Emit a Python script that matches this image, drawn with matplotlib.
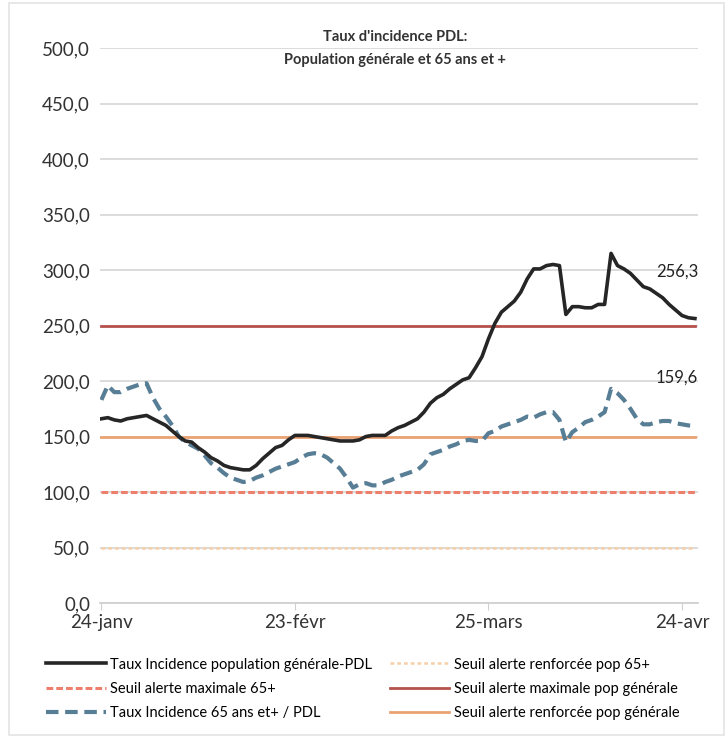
import matplotlib.pyplot as plt
import matplotlib.dates as mdates
import numpy as np
import pandas as pd
from matplotlib.patches import Rectangle

plt.rcParams['font.family'] = ['Lato', 'DejaVu Sans']

# daily dates, 24 Jan -> 26 Apr 2021
dates = pd.date_range("2021-01-24", periods=93, freq="D")

taux_pop_generale = [
    166, 167, 165, 164, 166, 167, 168, 169, 166, 163,
    160, 155, 150, 146, 145, 140, 136, 131, 128, 124,
    122, 121, 120, 120, 124, 130, 135, 140, 142, 147,
    151, 151, 151, 150, 149, 148, 147, 146, 146, 146,
    147, 150, 151, 151, 151, 155, 158, 160, 163, 166,
    172, 180, 185, 188, 193, 197, 201, 203, 212, 222,
    238, 252, 262, 267, 272, 280, 292, 301, 301, 304,
    305, 304, 260, 267, 267, 266, 266, 269, 269, 315,
    304, 301, 297, 291, 285, 283, 279, 275, 269, 264,
    259, 257, 256.3,
]

taux_65_plus = [
    183, 196, 190, 190, 193, 195, 197, 198, 185, 175,
    168, 160, 150, 145, 142, 139, 133, 126, 122, 117,
    113, 111, 109, 110, 113, 115, 118, 121, 123, 125,
    127, 131, 134, 135, 134, 131, 126, 121, 113, 104,
    107, 108, 106, 106, 109, 111, 114, 116, 118, 120,
    125, 134, 136, 138, 141, 143, 146, 147, 146, 146,
    153, 155, 159, 161, 163, 165, 168, 167, 170, 172,
    172, 165, 145, 154, 158, 163, 165, 168, 172, 193,
    189, 183, 175, 166, 161, 161, 163, 164, 164, 162,
    161, 160, 159.6,
]

seuil_renforcee_65 = 50
seuil_max_65 = 100
seuil_max_pop = 250
seuil_renforcee_pop = 150

y_ticks = np.arange(0, 501, 50)
x_ticks = pd.to_datetime(["2021-01-24", "2021-02-23", "2021-03-25", "2021-04-24"])
x_ticklabels = ["24-janv", "23-févr", "25-mars", "24-avr"]

fig = plt.figure(figsize=(7.28, 7.39), dpi=100)
ax = fig.add_axes([0.137, 0.184, 0.822, 0.751])

n = len(dates)
l1, = ax.plot(dates, taux_pop_generale, color="#262626", lw=2.6, zorder=5,
              label="Taux Incidence population générale-PDL")
l2, = ax.plot(dates, [seuil_renforcee_65] * n, color="#f6cfa8", lw=1.8, ls=(0, (1.5, 1.2)),
              zorder=3, label="Seuil alerte renforcée pop 65+")
l3, = ax.plot(dates, [seuil_max_65] * n, color="#ee7f6c", lw=2.2, ls=(0, (2.2, 1.0)),
              zorder=3, label="Seuil alerte maximale 65+")
l4, = ax.plot(dates, [seuil_max_pop] * n, color="#b5524b", lw=2, zorder=3,
              label="Seuil alerte maximale pop générale")
l5, = ax.plot(dates, taux_65_plus, color="#587e96", lw=3, ls=(0, (3, 1.6)), zorder=4,
              label="Taux Incidence 65 ans et+ / PDL")
l6, = ax.plot(dates, [seuil_renforcee_pop] * n, color="#eba273", lw=2, zorder=3,
              label="Seuil alerte renforcée pop générale")

# end-of-series data labels
ax.annotate("256,3", (dates[-1], taux_pop_generale[-1]), xytext=(-28, 30),
            textcoords="offset points", fontsize=12, color="#222222")
ax.annotate("159,6", (dates[-1], taux_65_plus[-1]), xytext=(-28, 31),
            textcoords="offset points", fontsize=12, color="#222222")

ax.set_ylim(0, 500)
ax.set_yticks(y_ticks)
ax.set_yticklabels([f"{v:.1f}".replace(".", ",") for v in y_ticks], fontsize=13.5)
ax.set_xlim(dates[0] - pd.Timedelta(hours=6), dates[-1] + pd.Timedelta(hours=12))
ax.set_xticks(x_ticks)
ax.set_xticklabels(x_ticklabels, fontsize=13.5)

ax.grid(axis="y", color="#d9d9d9", lw=1.3, zorder=0)
for s in ["top", "right", "left"]:
    ax.spines[s].set_visible(False)
ax.spines["bottom"].set_color("#d0d0d0")
ax.spines["bottom"].set_linewidth(1.3)
ax.tick_params(axis="y", length=0, pad=7, colors="#333333")
ax.tick_params(axis="x", length=5, color="#d0d0d0", pad=3, colors="#333333")

fig.text(0.543, 0.944, "Taux d'incidence PDL:", ha="center", fontsize=10.5,
         fontweight="bold", color="#333333")
fig.text(0.543, 0.914, "Population générale et 65 ans et +", ha="center", fontsize=10.5,
         fontweight="bold", color="#333333")

fig.legend(handles=[l1, l3, l5, l2, l4, l6], loc="lower left", ncol=2,
           bbox_to_anchor=(0.045, 0.008), frameon=False, fontsize=10.5,
           handlelength=4.1, handletextpad=0.3, columnspacing=1.2, labelspacing=0.7)

fig.patches.append(Rectangle((0.012, 0.006), 0.983, 0.99, transform=fig.transFigure,
                             fill=False, ec="#e4e4e4", lw=1.2))

fig.savefig("out.png", dpi=100)
